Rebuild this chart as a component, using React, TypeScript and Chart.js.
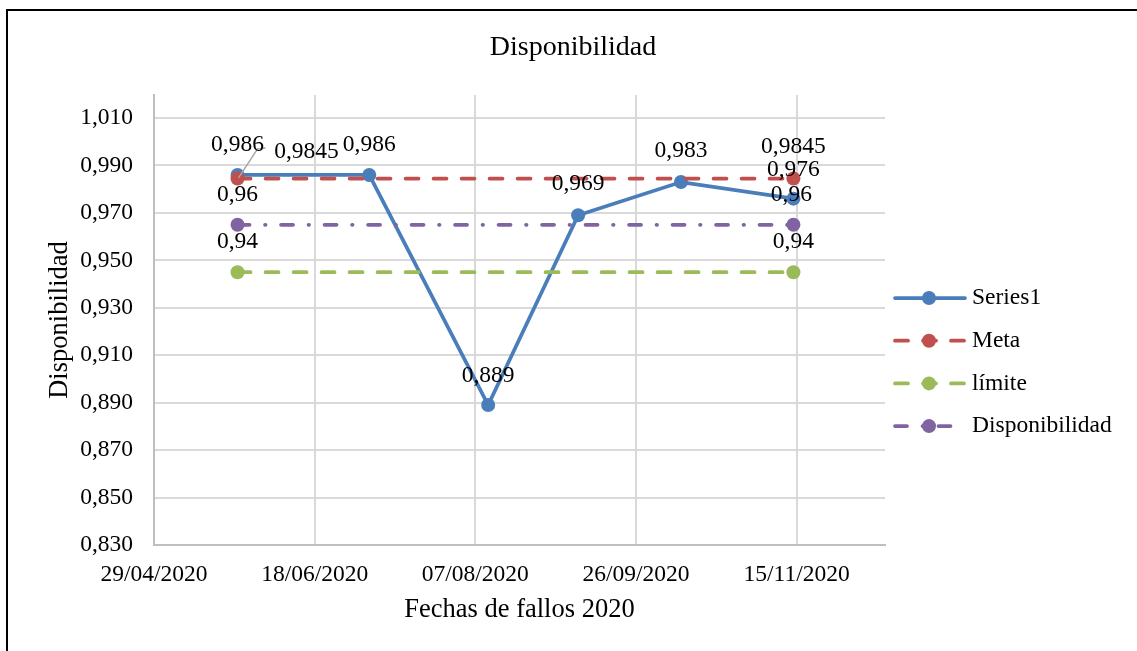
import React, { useEffect, useRef } from "react";
import { Chart, registerables } from "chart.js";

Chart.register(...registerables);

const FONT = "'Liberation Serif', 'Times New Roman', serif";

// ---- Data ----
const SERIES1_DATES = ["25/05/2020", "05/07/2020", "11/08/2020", "08/09/2020", "10/10/2020", "14/11/2020"];
const SERIES1_VALUES = [0.986, 0.986, 0.889, 0.969, 0.983, 0.976];
const REF_DATES = ["25/05/2020", "14/11/2020"];
const META_VALUES = [0.9845, 0.9845];
const LIMITE_VALUES = [0.945, 0.945];
const DISPONIBILIDAD_VALUES = [0.965, 0.965];
const X_TICK_LABELS = ["29/04/2020", "18/06/2020", "07/08/2020", "26/09/2020", "15/11/2020"];
const X_AXIS_END = "12/12/2020";
const Y_TICKS = [0.83, 0.85, 0.87, 0.89, 0.91, 0.93, 0.95, 0.97, 0.99, 1.01];
const Y_MIN = 0.83;
const Y_MAX = 1.0197;

const BLUE = "#4a7ebb";
const RED = "#c0504d";
const GREEN = "#9bbb59";
const PURPLE = "#8064a2";

function dayNum(s: string): number {
  const [d, m, y] = s.split("/").map(Number);
  return Date.UTC(y, m - 1, d) / 86400000;
}

const X_TICK_DAYS = X_TICK_LABELS.map(dayNum);

function pts(dates: string[], values: number[]) {
  return dates.map((d, i) => ({ x: dayNum(d), y: values[i] }));
}

const DASH = [13, 15];
const DASH_DOT = [12, 15.5, 0.5, 15.5];
const LINE_W = 3.75;
const MARKER_R = 7;

const dataLabelPlugin = {
  id: "dataLabelsCustom",
  afterDatasetsDraw(chart: any) {
    const ctx = chart.ctx;
    ctx.save();
    ctx.font = `23.5px ${FONT}`;
    ctx.fillStyle = "#000";
    ctx.textAlign = "center";
    ctx.textBaseline = "middle";
    chart.data.datasets.forEach((ds: any, di: number) => {
      const meta = chart.getDatasetMeta(di);
      meta.data.forEach((pt: any, j: number) => {
        const v = ds.data[j].y as number;
        const text = v.toFixed(ds.labelDecimals).replace(".", ",");
        const off = (ds.labelOffsets && ds.labelOffsets[j]) || [0, -30];
        if (ds.leader && ds.leader[j]) {
          ctx.save();
          ctx.strokeStyle = "#a6a6a6";
          ctx.lineWidth = 1.5;
          ctx.beginPath();
          const L = ds.leader[j];
          ctx.moveTo(pt.x + L[0][0], pt.y + L[0][1]);
          for (let k = 1; k < L.length; k++) ctx.lineTo(pt.x + L[k][0], pt.y + L[k][1]);
          ctx.stroke();
          ctx.restore();
        }
        ctx.fillText(text, pt.x + off[0], pt.y + off[1]);
      });
    });
    ctx.restore();
  },
};

const legendPlugin = {
  id: "legendCustom",
  afterDraw(chart: any) {
    const ctx = chart.ctx;
    const x0 = 895;
    const x1 = 965;
    const xm = 929;
    const textX = 972;
    const yStart = 298;
    const step = 42.7;
    ctx.save();
    chart.data.datasets.forEach((ds: any, i: number) => {
      const y = yStart + i * step;
      ctx.save();
      ctx.strokeStyle = ds.borderColor;
      ctx.lineWidth = ds.borderWidth;
      ctx.lineCap = ds.borderCapStyle || "butt";
      ctx.setLineDash(ds.borderDash || []);
      ctx.beginPath();
      ctx.moveTo(x0, y);
      ctx.lineTo(x1, y);
      ctx.stroke();
      ctx.restore();
      ctx.fillStyle = ds.pointBackgroundColor;
      ctx.beginPath();
      ctx.arc(xm, y, ds.pointRadius, 0, Math.PI * 2);
      ctx.fill();
      ctx.fillStyle = "#000";
      ctx.font = `23.5px ${FONT}`;
      ctx.textAlign = "left";
      ctx.textBaseline = "middle";
      ctx.fillText(ds.label, textX, y);
    });
    ctx.restore();
  },
};

export default function App() {
  const canvasRef = useRef<HTMLCanvasElement | null>(null);

  useEffect(() => {
    if (!canvasRef.current) return;
    const chart = new Chart(canvasRef.current, {
      type: "line",
      data: {
        datasets: [
          {
            label: "Series1",
            data: pts(SERIES1_DATES, SERIES1_VALUES),
            borderColor: BLUE,
            backgroundColor: BLUE,
            pointBackgroundColor: BLUE,
            pointBorderColor: BLUE,
            borderWidth: LINE_W,
            pointRadius: MARKER_R,
            pointBorderWidth: 0,
            borderCapStyle: "round",
            order: 4,
            labelDecimals: 3,
            labelOffsets: [[0, -30], [0, -30], [0, -29], [0, -31], [0, -31], [0, -29]],
            leader: [[[1, 3], [20, -26], [28, -27]]],
          } as any,
          {
            label: "Meta",
            data: pts(REF_DATES, META_VALUES),
            borderColor: RED,
            backgroundColor: RED,
            pointBackgroundColor: RED,
            pointBorderColor: RED,
            borderWidth: LINE_W,
            pointRadius: MARKER_R,
            pointBorderWidth: 0,
            borderDash: DASH,
            borderCapStyle: "round",
            order: 3,
            labelDecimals: 4,
            labelOffsets: [[69, -27], [0, -32]],
          } as any,
          {
            label: "límite",
            data: pts(REF_DATES, LIMITE_VALUES),
            borderColor: GREEN,
            backgroundColor: GREEN,
            pointBackgroundColor: GREEN,
            pointBorderColor: GREEN,
            borderWidth: LINE_W,
            pointRadius: MARKER_R,
            pointBorderWidth: 0,
            borderDash: DASH,
            borderCapStyle: "round",
            order: 2,
            labelDecimals: 2,
            labelOffsets: [[0, -30], [0, -30]],
          } as any,
          {
            label: "Disponibilidad",
            data: pts(REF_DATES, DISPONIBILIDAD_VALUES),
            borderColor: PURPLE,
            backgroundColor: PURPLE,
            pointBackgroundColor: PURPLE,
            pointBorderColor: PURPLE,
            borderWidth: LINE_W,
            pointRadius: MARKER_R,
            pointBorderWidth: 0,
            borderDash: DASH_DOT,
            borderCapStyle: "round",
            order: 1,
            labelDecimals: 2,
            labelOffsets: [[0, -30], [-2, -30]],
          } as any,
        ],
      },
      options: {
        responsive: false,
        animation: false,
        layout: { padding: { left: 9, right: 0, top: 0, bottom: 0 } },
        plugins: {
          legend: { display: false },
          tooltip: { enabled: false },
          title: {
            display: true,
            text: "Disponibilidad",
            color: "#000",
            font: { family: FONT, size: 28, weight: "normal" },
            padding: { top: 31.2, bottom: 30.2 },
          },
        },
        scales: {
          x: {
            type: "linear",
            bounds: "data",
            min: X_TICK_DAYS[0],
            max: dayNum(X_AXIS_END) + 0.5,
            afterBuildTicks: (scale: any) => {
              scale.ticks = X_TICK_DAYS.map((v) => ({ value: v }));
            },
            afterFit: (scale: any) => {
              scale.height = 106;
            },
            ticks: {
              autoSkip: false,
              maxRotation: 0,
              minRotation: 0,
              padding: 16,
              color: "#000",
              font: { family: FONT, size: 23.5 },
              callback: (value: any) => {
                const i = X_TICK_DAYS.indexOf(Number(value));
                return i >= 0 ? X_TICK_LABELS[i] : "";
              },
            },
            grid: { color: "#d9d9d9", lineWidth: 2, drawTicks: false },
            border: { display: true, color: "#bfbfbf", width: 2 },
            title: {
              display: true,
              text: "Fechas de fallos 2020",
              color: "#000",
              font: { family: FONT, size: 26.5 },
              padding: { top: 0, bottom: 25 },
            },
          },
          y: {
            type: "linear",
            position: "left",
            bounds: "data",
            min: Y_MIN,
            max: Y_MAX,
            afterBuildTicks: (scale: any) => {
              scale.ticks = Y_TICKS.map((v) => ({ value: v }));
            },
            afterFit: (scale: any) => {
              scale.width = 145;
            },
            ticks: {
              padding: 21,
              color: "#000",
              font: { family: FONT, size: 23.5 },
              callback: (value: any) => Number(value).toFixed(3).replace(".", ","),
            },
            grid: { color: "#d9d9d9", lineWidth: 2, drawTicks: false },
            border: { display: true, color: "#bfbfbf", width: 2 },
            title: {
              display: true,
              text: "Disponibilidad",
              color: "#000",
              font: { family: FONT, size: 26.5 },
              padding: { top: 35, bottom: 0 },
            },
          },
          legendSpace: {
            type: "linear",
            position: "right",
            display: true,
            grid: { display: false, drawTicks: false },
            border: { display: false },
            ticks: { display: false },
            afterFit: (scale: any) => {
              scale.width = 252;
            },
          },
        },
      } as any,
      plugins: [dataLabelPlugin, legendPlugin],
    });
    return () => chart.destroy();
  }, []);

  return (
    <div
      style={{
        position: "fixed",
        left: 0,
        top: 0,
        width: 1137,
        height: 651,
        background: "#fff",
        overflow: "hidden",
      }}
    >
      <canvas ref={canvasRef} width={1137} height={651} style={{ display: "block", position: "absolute", left: 0, top: 0 }} />
      <div
        style={{
          position: "absolute",
          left: 6,
          top: 9,
          width: 1200,
          height: 700,
          borderLeft: "2px solid #000",
          borderTop: "2px solid #000",
          pointerEvents: "none",
        }}
      />
    </div>
  );
}
